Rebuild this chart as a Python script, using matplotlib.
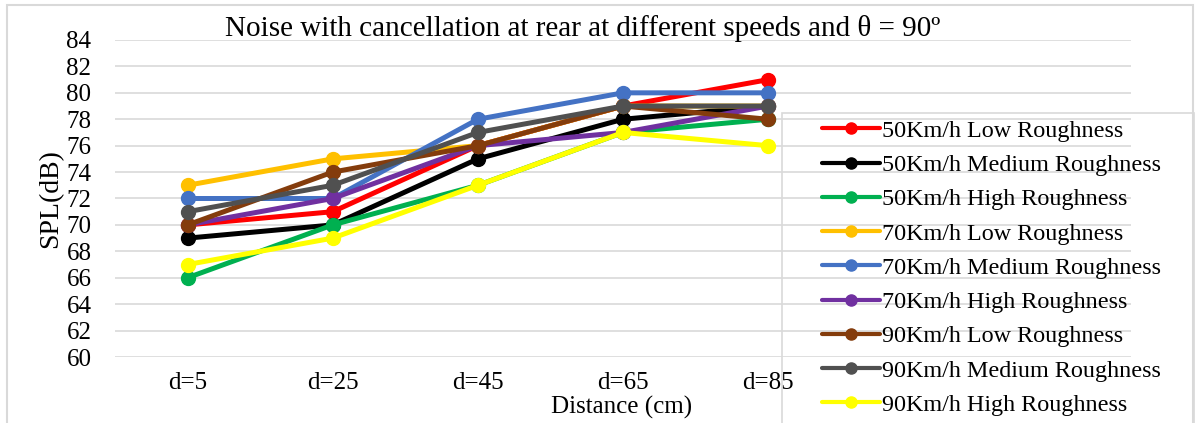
import matplotlib.pyplot as plt
from matplotlib.patches import Rectangle

plt.rcParams['font.family'] = ['Liberation Serif', 'DejaVu Serif']

categories = ['d=5', 'd=25', 'd=45', 'd=65', 'd=85']

# SPL (dB) per series
labels = ['50Km/h Low Roughness', '50Km/h Medium Roughness', '50Km/h High Roughness',
          '70Km/h Low Roughness', '70Km/h Medium Roughness', '70Km/h High Roughness',
          '90Km/h Low Roughness', '90Km/h Medium Roughness', '90Km/h High Roughness']
s50_low = [70, 71, 76, 79, 81]
s50_med = [69, 70, 75, 78, 79]
s50_high = [66, 70, 73, 77, 78]
s70_low = [73, 75, 76, 79, 79]
s70_med = [72, 72, 78, 80, 80]
s70_high = [70, 72, 76, 77, 79]
s90_low = [70, 74, 76, 79, 78]
s90_med = [71, 73, 77, 79, 79]
s90_high = [67, 69, 73, 77, 76]
series = [s50_low, s50_med, s50_high, s70_low, s70_med, s70_high, s90_low, s90_med, s90_high]
colors = ['#FF0000', '#000000', '#00B050', '#FFC000', '#4472C4', '#7030A0',
          '#843C0C', '#505050', '#FFFF00']

W, H = 1196, 423
fig = plt.figure(figsize=(W / 100, H / 100), dpi=100)
ax = fig.add_axes([115 / W, 1 - 357 / H, (1131 - 115) / W, (357 - 40) / H])

x = list(range(len(categories)))
for vals, c, lab in zip(series, colors, labels):
    ax.plot(x, vals, color=c, lw=3.6, marker='o', ms=10, label=lab, solid_capstyle='round')

ax.set_xlim(-0.5, 6.5)
ax.set_ylim(60, 84)
ax.set_yticks(range(60, 85, 2))
ax.set_xticks(x)
ax.set_xticklabels(categories)
ax.grid(axis='y', color='#D9D9D9', lw=1.2)
ax.set_axisbelow(True)
for sp in ax.spines.values():
    sp.set_visible(False)
ax.tick_params(axis='y', length=0, pad=17, labelsize=18)
ax.tick_params(axis='x', length=0, pad=11, labelsize=18)
ax.set_ylabel('SPL(dB)', fontsize=20, labelpad=2)

fig.text(622 / W, 1 - 407 / H, 'Distance (cm)', ha='center', va='center', fontsize=18)
fig.text(583 / W, 1 - 29 / H, 'Noise with cancellation at rear at different speeds and θ = 90º',
         ha='center', va='center', fontsize=21)

# legend box and chart border
fig.patches.append(Rectangle((782 / W, -0.05), (1194 - 782) / W, 1 - 113 / H + 0.05,
                             transform=fig.transFigure, fill=False, ec='#D9D9D9', lw=1.2))
fig.patches.append(Rectangle((7 / W, -0.05), (1193 - 7) / W, 1 - 5 / H + 0.05,
                             transform=fig.transFigure, fill=False, ec='#D9D9D9', lw=1.5))

leg = fig.legend(loc='upper left', bbox_to_anchor=(822 / W, 1 - 120 / H), frameon=False,
                 fontsize=17.4, handlelength=2.4, handletextpad=0.1, labelspacing=0.51,
                 borderaxespad=0, borderpad=0)
for h in leg.legend_handles:
    h.set_markersize(8)
    h.set_linewidth(3)

fig.savefig('out.png', dpi=100)
